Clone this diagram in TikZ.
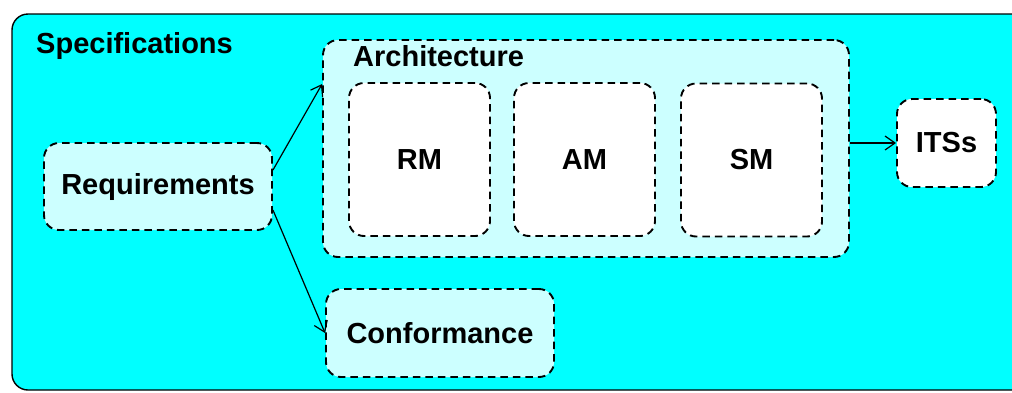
\documentclass[tikz,border=0pt]{standalone}
\usepackage{fontspec}
\setmainfont{Liberation Sans}
\usetikzlibrary{arrows.meta}
\definecolor{specblue}{HTML}{00FFFF}
\definecolor{paleblue}{HTML}{CCFFFF}

\begin{document}
\begin{tikzpicture}[x=1pt, y=-1pt,
  part/.style={draw, line width=1.9pt, dash pattern=on 7.5pt off 5pt, rounded corners=15pt, inner sep=0pt, font=\fontsize{29}{34}\selectfont\bfseries},
  title/.style={anchor=base west, inner sep=0pt, font=\fontsize{29}{34}\selectfont\bfseries},
  link/.style={line width=1.2pt, -{Straight Barb[length=10pt,width=14pt]}}]
\useasboundingbox (0,0) rectangle (1012,392);
% outer frame
\draw [fill=specblue, line width=1.4pt, rounded corners=16pt] (12,14) rectangle (1040,390);
\node [title] (spec) at (36,53) {Specifications};
% architecture group
\node [part, fill=paleblue, minimum width=526pt, minimum height=217pt] (arch) at (586,148.5) {};
\node [title] (archtitle) at (353,66) {Architecture};
\node [part, fill=white, minimum width=141pt, minimum height=153pt] (rm) at (419.5,159.5) {RM};
\node [part, fill=white, minimum width=141pt, minimum height=153pt] (am) at (584.5,159.5) {AM};
\node [part, fill=white, minimum width=141pt, minimum height=153pt] (sm) at (751.5,160) {SM};
\node [part, fill=white, minimum width=99pt, minimum height=88pt] (its) at (946.5,143) {ITSs};
\node [part, fill=paleblue, minimum width=228pt, minimum height=87pt] (req) at (158,186.5) {Requirements};
\node [part, fill=paleblue, minimum width=228pt, minimum height=88pt] (conf) at (440,333) {Conformance};
% arrows
\draw [link] ([yshift=16.5pt]req.east) -- ([yshift=-45pt]arch.north west);
\draw [link] ([yshift=-23.5pt]req.east) -- (conf.west);
\draw [link] (arch.east |- its.west) -- (its.west);
\end{tikzpicture}
\end{document}
